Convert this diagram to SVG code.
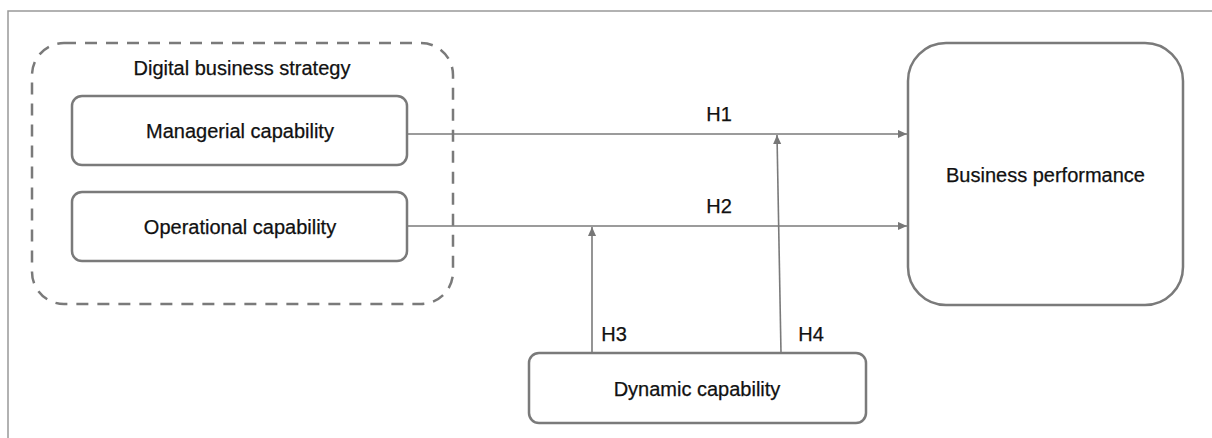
<svg xmlns="http://www.w3.org/2000/svg" width="1212" height="438" viewBox="0 0 1212 438">
  <defs>
    <marker id="arrow" viewBox="0 0 10 10" refX="10" refY="5" markerWidth="9" markerHeight="9" markerUnits="userSpaceOnUse" orient="auto">
      <path d="M0,0.5 L10,5 L0,9.5 Z" fill="#777777"/>
    </marker>
  </defs>
  <style>
    text { font-family: "Liberation Sans", Arial, sans-serif; font-size: 20px; fill: #111111; text-anchor: middle; stroke: #111111; stroke-width: 0.25; }
    .box { fill: #ffffff; stroke: #7a7a7a; stroke-width: 2.5; }
    .group { fill: none; stroke: #7a7a7a; stroke-width: 2.5; stroke-dasharray: 12 9; }
    .edge { fill: none; stroke: #7a7a7a; stroke-width: 1.6; marker-end: url(#arrow); }
    .frame { fill: none; stroke: #999999; stroke-width: 1.5; }
  </style>
  <rect width="1212" height="438" fill="#ffffff"/>
  <!-- outer frame -->
  <path class="frame" d="M8,440 L8,11 L1214,11"/>

  <g id="digital-business-strategy">
    <rect class="group" x="32" y="43" width="421" height="261" rx="32" ry="32"/>
    <text x="242" y="75">Digital business strategy</text>
  </g>

  <g id="managerial-capability">
    <rect class="box" x="72" y="96" width="335" height="69" rx="10" ry="10"/>
    <text x="240" y="138">Managerial capability</text>
  </g>

  <g id="operational-capability">
    <rect class="box" x="72" y="192" width="335" height="69" rx="10" ry="10"/>
    <text x="240" y="234">Operational capability</text>
  </g>

  <g id="business-performance">
    <rect class="box" x="908" y="43" width="275" height="262" rx="38" ry="38"/>
    <text x="1045.5" y="182">Business performance</text>
  </g>

  <g id="dynamic-capability">
    <rect class="box" x="529" y="353" width="337" height="70" rx="10" ry="10"/>
    <text x="697" y="396">Dynamic capability</text>
  </g>

  <g id="connectors">
    <path class="edge" d="M407,134 L907,134"/>
    <path class="edge" d="M407,226 L907,226"/>
    <path class="edge" d="M592,353 L592,227"/>
    <path class="edge" d="M781,353 L777,135"/>
    <text x="719" y="121">H1</text>
    <text x="719" y="213">H2</text>
    <text x="614" y="341">H3</text>
    <text x="811" y="341">H4</text>
  </g>
</svg>
